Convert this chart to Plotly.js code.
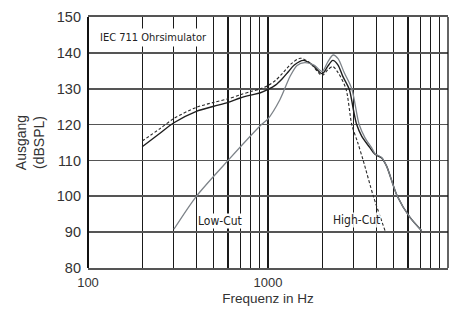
<!DOCTYPE html>
<html>
<head>
<meta charset="utf-8">
<script src="https://cdn.plot.ly/plotly-3.0.1.min.js"></script>
<style>
html,body{margin:0;padding:0;background:#fff;}
#chart{width:463px;height:317px;}
</style>
</head>
<body>
<div id="chart"></div>
<script>
// Solid black curve
var blackF = [200, 250, 300, 400, 500, 600, 700, 800, 900, 1000, 1100, 1200, 1300, 1400, 1570, 1750, 2000, 2150, 2290, 2450, 2600, 2830, 2980, 3110, 3320, 3690, 3930, 4280, 4560, 5230, 6150, 7140];
var blackDB = [113.8, 117.5, 120.5, 123.7, 125.1, 126.2, 127.4, 128.2, 128.8, 129.8, 131.0, 132.8, 134.8, 136.6, 137.9, 136.8, 134.2, 136.3, 137.9, 136.6, 133.5, 129.8, 124.2, 120.0, 116.7, 113.5, 111.7, 110.7, 108.4, 100.0, 94.1, 90.4];

// Dashed curve (High-Cut)
var dashF = [200, 250, 300, 400, 500, 600, 700, 800, 900, 1000, 1100, 1200, 1350, 1510, 1700, 2000, 2150, 2290, 2450, 2710, 2920, 3150, 3380, 3850, 4470];
var dashDB = [115.4, 118.8, 121.7, 124.8, 126.2, 127.2, 128.3, 129.2, 129.9, 130.9, 132.3, 134.2, 137.0, 138.5, 137.3, 133.7, 135.3, 136.2, 134.5, 130.0, 120.0, 115.0, 110.0, 100.0, 90.4];

// Grey curve (Low-Cut)
var greyF = [300, 400, 600, 920, 1000, 1166, 1325, 1450, 1600, 1800, 2000, 2150, 2300, 2450, 2650, 2920, 3210, 3460, 3770, 3930, 4280, 4560, 5230, 6150, 7140];
var greyDB = [90.8, 100.0, 110.0, 120.0, 121.6, 127.0, 133.4, 136.5, 137.3, 136.6, 134.8, 137.5, 139.4, 138.4, 134.5, 130.0, 120.0, 116.3, 113.5, 111.9, 110.8, 108.4, 100.0, 94.1, 90.4];

// Axis ticks
var xGridVals = [100,200,300,400,500,600,700,800,900,1000,2000,3000,4000,5000,6000,7000,8000,9000,10000];
var xTickText = ['100','','','','','','','','','1000','','','','','','','','','10000'];
var yTickVals = [80,90,100,110,120,130,140,150];

// Annotation labels
var labelTitle = 'IEC 711 Ohrsimulator';
var labelLow = 'Low-Cut';
var labelHigh = 'High-Cut';

var font = "Liberation Sans, Arial, Helvetica, sans-serif";
var narrow = "DejaVu Sans Condensed, Liberation Sans Narrow, sans-serif";

var traces = [
  {x: dashF, y: dashDB, mode: 'lines', line: {color: '#2a2a2a', width: 1.1, dash: '3px,2px', shape: 'spline', smoothing: 0.8}, hoverinfo: 'skip'},
  {x: blackF, y: blackDB, mode: 'lines', line: {color: '#1e1e1e', width: 1.4, shape: 'spline', smoothing: 0.8}, hoverinfo: 'skip'},
  {x: greyF, y: greyDB, mode: 'lines', line: {color: '#7d8389', width: 1.3, shape: 'spline', smoothing: 0.8}, hoverinfo: 'skip'}
];

var layout = {
  width: 463, height: 317,
  margin: {l: 88, r: 15, t: 17, b: 49},
  paper_bgcolor: '#fff', plot_bgcolor: '#fff',
  showlegend: false,
  font: {family: font, size: 13, color: '#333'},
  xaxis: {
    type: 'log', range: [2, 4],
    tickmode: 'array', tickvals: xGridVals, ticktext: xTickText,
    showgrid: true, gridcolor: '#1a1a1a', gridwidth: 1.15,
    ticks: '', ticklabelstandoff: 2,
    tickfont: {family: font, size: 13, color: '#333'},
    showline: true, linecolor: '#555', linewidth: 1.8, mirror: true,
    zeroline: false,
    title: {text: 'Frequenz in Hz', font: {family: font, size: 13.5, color: '#333'}, standoff: 4}
  },
  yaxis: {
    range: [80, 150],
    tickmode: 'array', tickvals: yTickVals,
    showgrid: true, gridcolor: '#555', gridwidth: 1.7,
    ticks: '', ticklabelstandoff: 6,
    tickfont: {family: font, size: 14.5, color: '#333'},
    showline: false, zeroline: false,
    title: {text: 'Ausgang<br>(dBSPL)', font: {family: font, size: 14, color: '#333'}, standoff: 8}
  },
  shapes: [
    {type: 'line', xref: 'paper', yref: 'paper', x0: 0, x1: 0, y0: 0, y1: 1, line: {color: '#111', width: 2}},
    {type: 'line', xref: 'paper', yref: 'paper', x0: 1, x1: 1, y0: 0, y1: 1, line: {color: '#111', width: 1.3}}
  ],
  annotations: [
    {x: 0.183, y: 0.92, xref: 'paper', yref: 'paper', text: labelTitle, showarrow: false, xanchor: 'center', yanchor: 'middle', bgcolor: '#fff', borderpad: 2, font: {family: narrow, size: 11, color: '#222'}},
    {x: Math.log10(541), y: 93.1, xref: 'x', yref: 'y', text: labelLow, showarrow: false, xanchor: 'center', yanchor: 'middle', bgcolor: '#fff', borderpad: 0, font: {family: narrow, size: 12, color: '#222'}},
    {x: Math.log10(3083), y: 93.3, xref: 'x', yref: 'y', text: labelHigh, showarrow: false, xanchor: 'center', yanchor: 'middle', bgcolor: 'rgba(255,255,255,0.85)', borderpad: 0, font: {family: narrow, size: 12, color: '#222'}}
  ]
};

Plotly.newPlot('chart', traces, layout, {staticPlot: true, displayModeBar: false});
</script>
</body>
</html>
